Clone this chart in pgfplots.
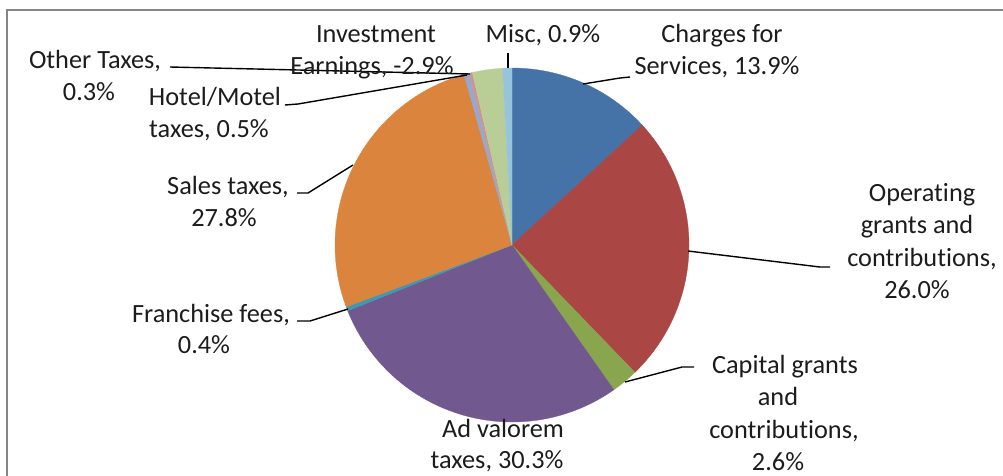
\documentclass[border=0pt]{standalone}
\usepackage{fontspec}
\setmainfont{Carlito}[Ligatures={NoCommon,NoContextual}]
\usepackage{pgfplots}
\pgfplotsset{compat=1.18}
\definecolor{cA}{HTML}{4572A7}
\definecolor{cB}{HTML}{AA4643}
\definecolor{cC}{HTML}{89A54E}
\definecolor{cD}{HTML}{71588F}
\definecolor{cE}{HTML}{4198AF}
\definecolor{cF}{HTML}{DB843D}
\definecolor{cG}{HTML}{93A9CF}
\definecolor{cH}{HTML}{D19392}
\definecolor{cI}{HTML}{B9CD96}
\definecolor{cJ}{HTML}{96C4DA}
\definecolor{txt}{HTML}{1C1C1C}
\definecolor{frame}{HTML}{868686}
% value (percent) / colour, clockwise from 12 o'clock
\def\slicedata{13.9/cA, 26.0/cB, 2.6/cC, 30.3/cD, 0.4/cE, 27.8/cF, 0.5/cG, 0.3/cH, -2.9/cI, 0.9/cJ}
\begin{document}
\begin{tikzpicture}[x=1pt,y=1pt,
  lbl/.style={anchor=base, inner sep=0pt, text=txt, font=\fontsize{26.3}{31.6}\selectfont},
  lead/.style={black, line width=1.4pt}]
\useasboundingbox (0,0) rectangle (1003,475);
\xdef\total{0}
\foreach \v/\c in \slicedata {\pgfmathsetmacro\tmpsum{\total+abs(\v)}\xdef\total{\tmpsum}}
\begin{axis}[at={(0,0)}, anchor=south west, width=1003pt, height=475pt, scale only axis,
  xmin=0, xmax=1003, ymin=0, ymax=475, y dir=reverse, hide axis, clip=false]
\xdef\cum{0}
\foreach \v/\c in \slicedata {
  \pgfmathsetmacro\angA{90-(\cum/\total)*360}
  \pgfmathsetmacro\angB{90-((\cum+abs(\v))/\total)*360}
  \edef\doplot{\noexpand\addplot[draw=\c, line width=0.3pt, fill=\c, domain=\angB:\angA, samples=90, variable=\noexpand\ang] ({512+177*cos(\noexpand\ang)}, {245-177*sin(\noexpand\ang)}) -- (axis cs:512,245) -- cycle;}
  \doplot
  \pgfmathsetmacro\nc{\cum+abs(\v)}
  \xdef\cum{\nc}
}
% frame
\draw[frame, line width=2pt] (axis cs:7,480) -- (axis cs:7,10) -- (axis cs:1010,10);
% leader lines
\draw[lead] (axis cs:170,67) -- (axis cs:470,74);
\draw[lead] (axis cs:285,105) -- (axis cs:298,104) -- (axis cs:467,75);
\draw[lead] (axis cs:508,53) -- (axis cs:508,68);
\draw[lead] (axis cs:583,84) -- (axis cs:620,78) -- (axis cs:630,77);
\draw[lead] (axis cs:688,251) -- (axis cs:820,267) -- (axis cs:830,267);
\draw[lead] (axis cs:625,382) -- (axis cs:682,367) -- (axis cs:694,367);
\draw[lead] (axis cs:297,321) -- (axis cs:310,321) -- (axis cs:348,309);
\draw[lead] (axis cs:297,193) -- (axis cs:308,193) -- (axis cs:353,165);
% labels
\node[lbl] at (axis cs:95,68) {Other Taxes,};
\node[lbl] at (axis cs:89,100) {0.3\%};
\node[lbl] at (axis cs:215,105) {Hotel/Motel};
\node[lbl] at (axis cs:209,137) {taxes, 0.5\%};
\node[lbl] at (axis cs:376,42) {Investment};
\node[lbl] at (axis cs:372,74) {Earnings, -2.9\%};
\node[lbl] at (axis cs:543,42) {Misc, 0.9\%};
\node[lbl] at (axis cs:722,42) {Charges for};
\node[lbl] at (axis cs:717,74) {Services, 13.9\%};
\node[lbl] at (axis cs:922,201) {Operating};
\node[lbl] at (axis cs:917,233) {grants and};
\node[lbl] at (axis cs:922,266) {contributions,};
\node[lbl] at (axis cs:917,298) {26.0\%};
\node[lbl] at (axis cs:785,373) {Capital grants};
\node[lbl] at (axis cs:778,405) {and};
\node[lbl] at (axis cs:784,438) {contributions,};
\node[lbl] at (axis cs:778,470) {2.6\%};
\node[lbl] at (axis cs:503,437) {Ad valorem};
\node[lbl] at (axis cs:497,468) {taxes, 30.3\%};
\node[lbl] at (axis cs:211,322) {Franchise fees,};
\node[lbl] at (axis cs:204,353) {0.4\%};
\node[lbl] at (axis cs:228,194) {Sales taxes,};
\node[lbl] at (axis cs:224,226) {27.8\%};
\end{axis}
\end{tikzpicture}
\end{document}
